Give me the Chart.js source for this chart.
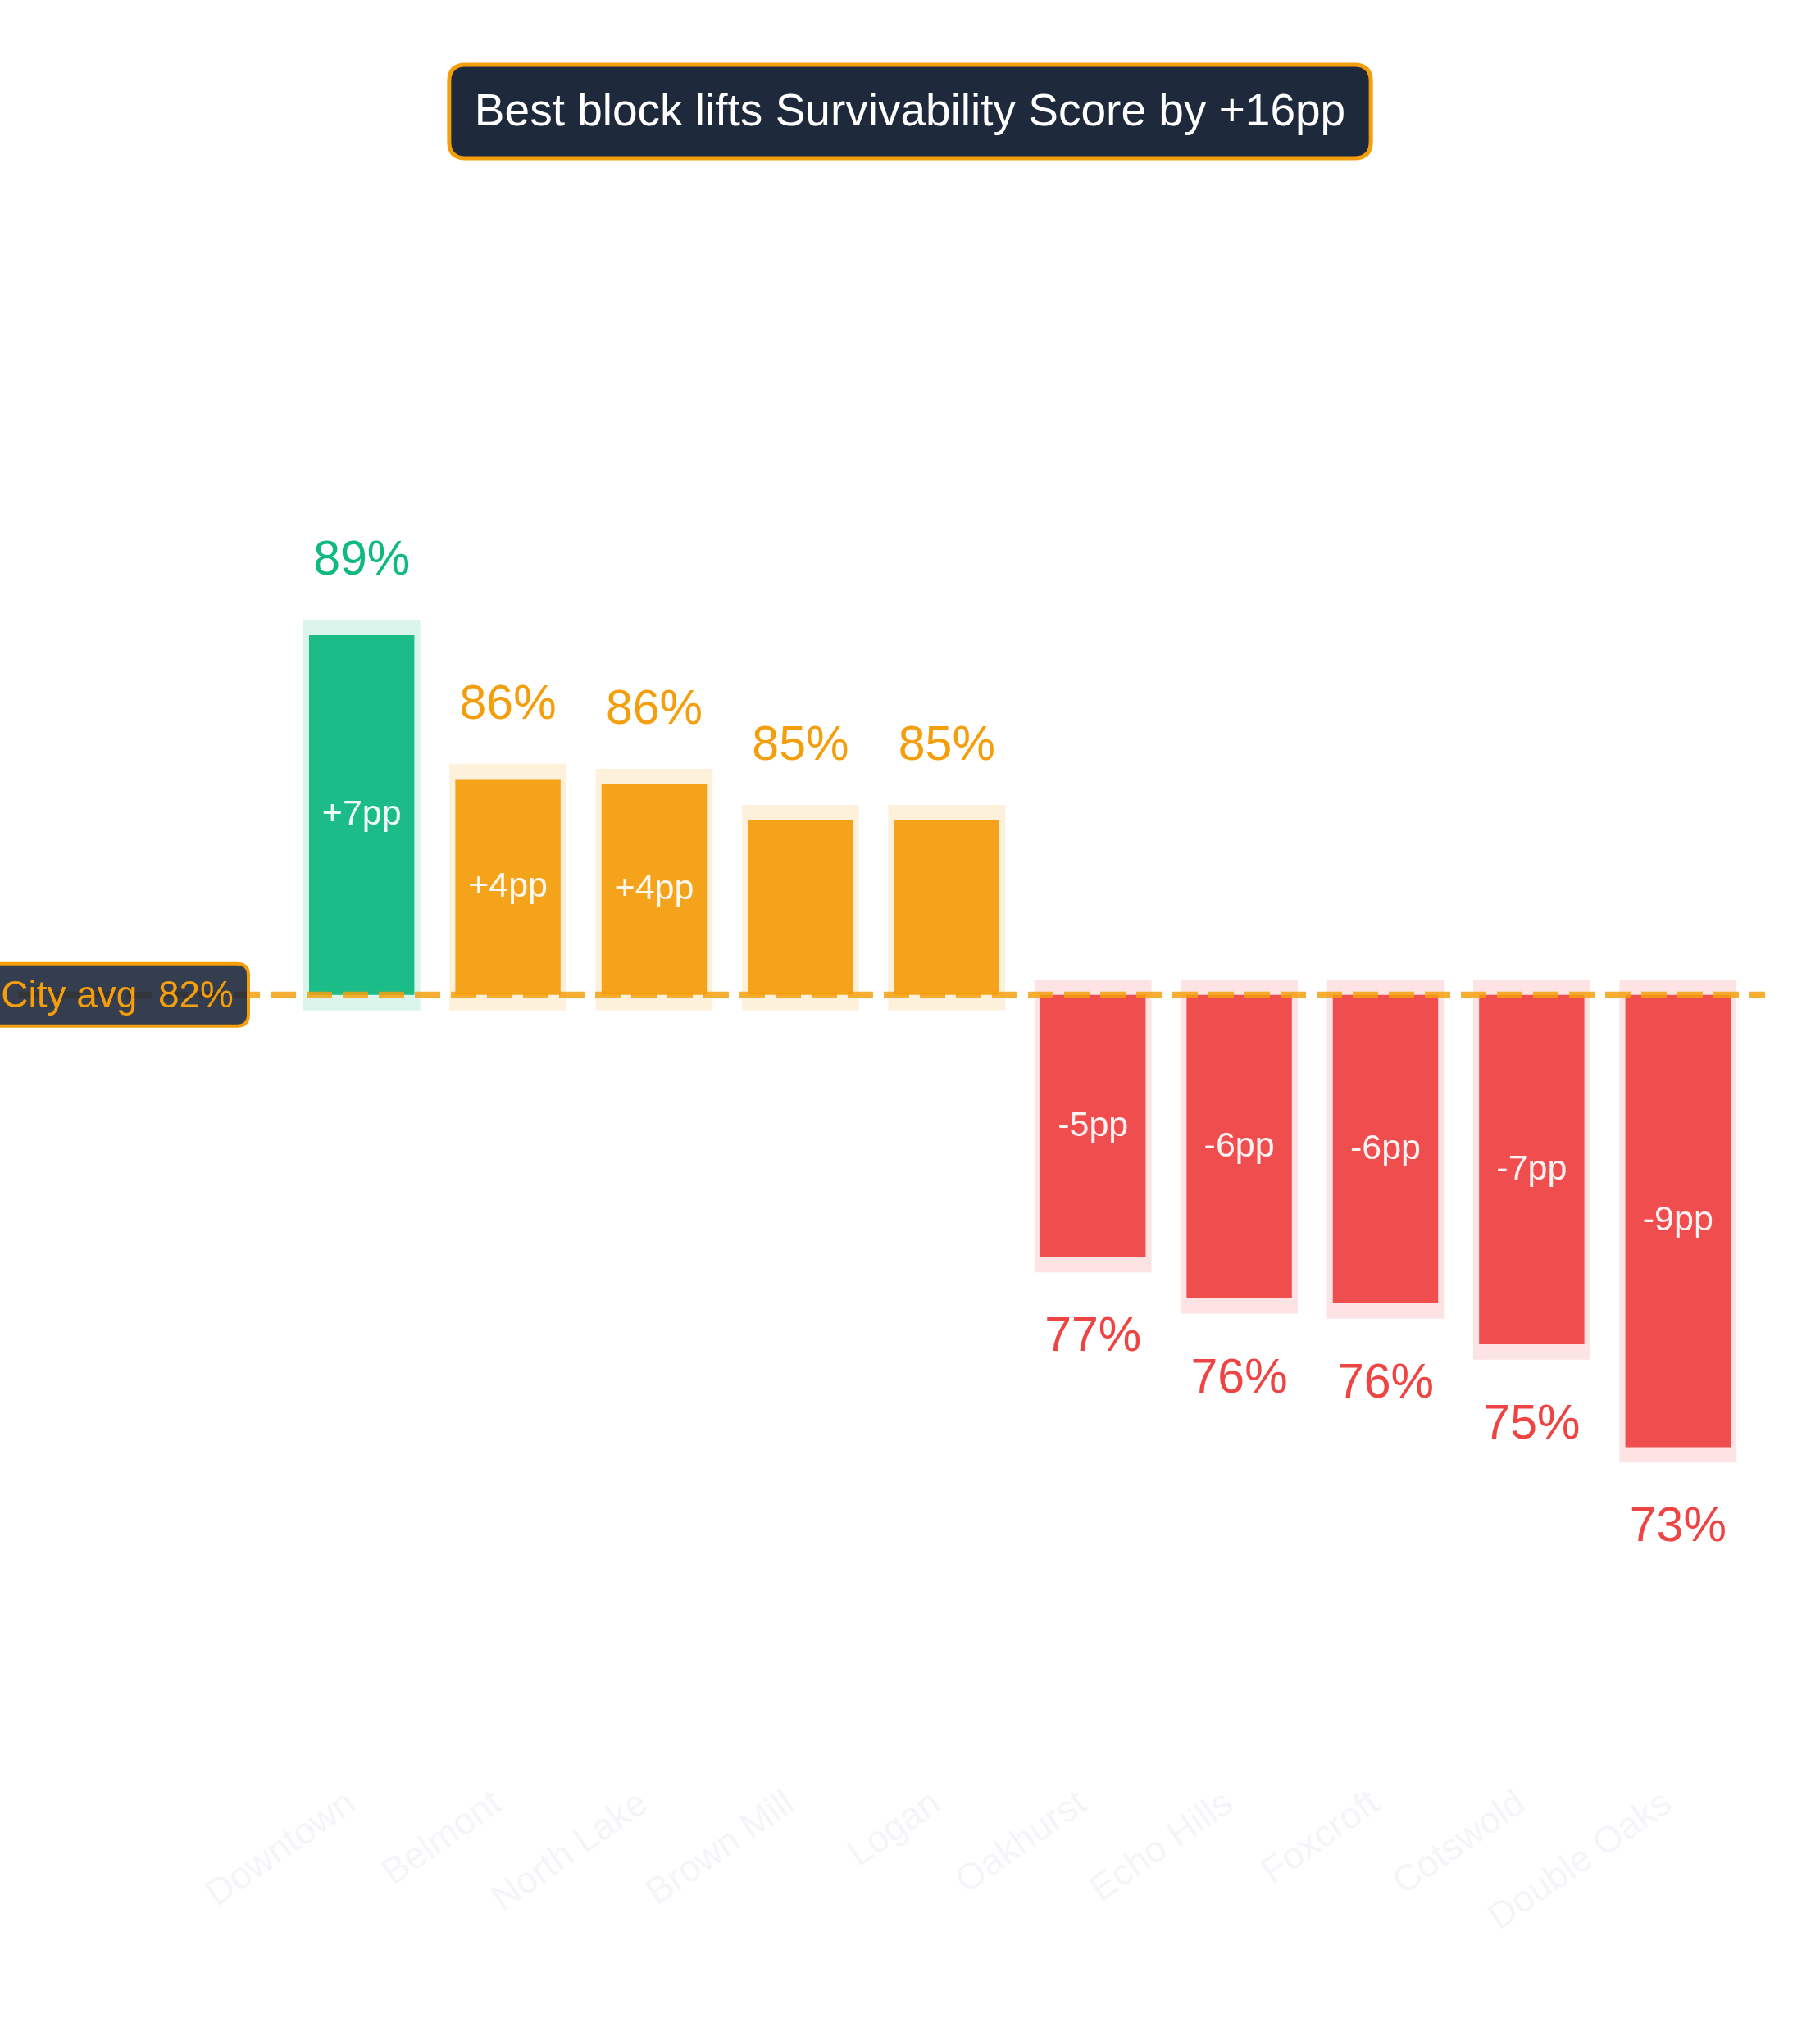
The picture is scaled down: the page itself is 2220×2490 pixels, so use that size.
<!DOCTYPE html>
<html>
<head>
<meta charset="utf-8">
<script src="https://cdn.jsdelivr.net/npm/chart.js@4.4.1/dist/chart.umd.min.js"></script>
<style>
  html, body { margin: 0; padding: 0; background: #ffffff; }
  #chart { display: block; width: 2220px; height: 2490px; }
</style>
</head>
<body>
<canvas id="chart" width="2220" height="2490"></canvas>
<script>
// data
const districts = ["Downtown", "Belmont", "North Lake", "Brown Mill", "Logan",
  "Oakhurst", "Echo Hills", "Foxcroft", "Cotswold", "Double Oaks"];
const scores = [89.0, 86.2, 86.1, 85.4, 85.4, 76.9, 76.1, 76.0, 75.2, 73.2];
const cityAvg = 82;
const haloPad = 0.3; // halo sticks out a little past each bar

const FONT = '"Liberation Sans", Arial, Helvetica, sans-serif';
const GREEN = "#1bbc87";
const AMBER = "#f4a31a";
const RED = "#f04e4e";
const LINE_AMBER = "#f5a00f";

const best = Math.max(...scores);
const worst = Math.min(...scores);

const colorFor = (v) => (v === best ? GREEN : v >= cityAvg ? AMBER : RED);
const haloFor = (v) =>
  v === best ? "rgba(16,185,129,0.15)" : v >= cityAvg ? "rgba(245,158,11,0.15)" : "rgba(239,68,68,0.15)";

const barRanges = scores.map((v) => [cityAvg, v]);
const haloRanges = scores.map((v) => [Math.min(v, cityAvg) - haloPad, Math.max(v, cityAvg) + haloPad]);

function roundRect(ctx, x, y, w, h, r) {
  ctx.beginPath();
  ctx.moveTo(x + r, y);
  ctx.lineTo(x + w - r, y);
  ctx.quadraticCurveTo(x + w, y, x + w, y + r);
  ctx.lineTo(x + w, y + h - r);
  ctx.quadraticCurveTo(x + w, y + h, x + w - r, y + h);
  ctx.lineTo(x + r, y + h);
  ctx.quadraticCurveTo(x, y + h, x, y + h - r);
  ctx.lineTo(x, y + r);
  ctx.quadraticCurveTo(x, y, x + r, y);
  ctx.closePath();
}

// headline box at the top
const titleBox = {
  id: "titleBox",
  afterDraw(chart) {
    const ctx = chart.ctx;
    const text = "Best block lifts Survivability Score by +" + Math.round(best - worst) + "pp";
    ctx.save();
    ctx.font = "55px " + FONT;
    const w = ctx.measureText(text).width + 62;
    const h = 114;
    const x = chart.width / 2 - w / 2;
    const y = 79;
    roundRect(ctx, x, y, w, h, 20);
    ctx.fillStyle = "#1e293b";
    ctx.fill();
    ctx.lineWidth = 5;
    ctx.strokeStyle = "#f59e0b";
    ctx.stroke();
    ctx.fillStyle = "#ffffff";
    ctx.textAlign = "center";
    ctx.textBaseline = "middle";
    ctx.fillText(text, chart.width / 2, y + h / 2 + 2);
    ctx.restore();
  },
};

// dashed city average line with its tag
const avgLine = {
  id: "avgLine",
  afterDatasetsDraw(chart) {
    const ctx = chart.ctx;
    const yPix = chart.scales.y.getPixelForValue(cityAvg);
    const area = chart.chartArea;
    ctx.save();
    ctx.strokeStyle = LINE_AMBER;
    ctx.globalAlpha = 0.85;
    ctx.lineWidth = 8;
    ctx.setLineDash([31, 13]);
    ctx.beginPath();
    ctx.moveTo(22, yPix);
    ctx.lineTo(area.right + 17, yPix);
    ctx.stroke();
    ctx.restore();

    const label = "City avg  " + cityAvg + "%";
    ctx.save();
    ctx.font = "46px " + FONT;
    const tw = ctx.measureText(label).width;
    const right = area.left - 49;
    const w = tw + 36;
    const h = 76;
    roundRect(ctx, right - w, yPix - h / 2, w, h, 14);
    ctx.fillStyle = "rgba(30,41,59,0.9)";
    ctx.fill();
    ctx.lineWidth = 4;
    ctx.strokeStyle = "#f59e0b";
    ctx.stroke();
    ctx.fillStyle = "#f59e0b";
    ctx.textAlign = "right";
    ctx.textBaseline = "middle";
    ctx.fillText(label, right - 18, yPix + 2);
    ctx.restore();
  },
};

// value and gap labels
const barLabels = {
  id: "barLabels",
  afterDatasetsDraw(chart) {
    const ctx = chart.ctx;
    const meta = chart.getDatasetMeta(1);
    ctx.save();
    ctx.textAlign = "center";
    meta.data.forEach((bar, i) => {
      const v = scores[i];
      const top = Math.min(bar.y, bar.base);
      const bottom = Math.max(bar.y, bar.base);
      ctx.font = "59px " + FONT;
      ctx.fillStyle = v === best ? "#10b981" : v >= cityAvg ? "#f59e0b" : "#ef4444";
      ctx.textBaseline = "alphabetic";
      if (v >= cityAvg) {
        ctx.fillText(Math.round(v) + "%", bar.x, top - 74);
      } else {
        ctx.fillText(Math.round(v) + "%", bar.x, bottom + 115);
      }
      const d = Math.round(v - cityAvg);
      if (Math.abs(d) >= 4) {
        ctx.font = "43px " + FONT;
        ctx.fillStyle = "rgba(255,255,255,0.92)";
        ctx.textBaseline = "middle";
        ctx.fillText((d > 0 ? "+" : "") + d + "pp", bar.x, (top + bottom) / 2);
      }
    });
    ctx.restore();
  },
};

new Chart(document.getElementById("chart"), {
  type: "bar",
  data: {
    labels: districts,
    datasets: [
      {
        label: "halo",
        data: haloRanges,
        backgroundColor: scores.map(haloFor),
        borderWidth: 0,
        categoryPercentage: 0.8,
        barPercentage: 1.0,
        grouped: false,
        order: 2,
      },
      {
        label: "Survivability Score",
        data: barRanges,
        backgroundColor: scores.map(colorFor),
        borderWidth: 0,
        categoryPercentage: 0.8,
        barPercentage: 0.9,
        grouped: false,
        order: 1,
      },
    ],
  },
  options: {
    responsive: false,
    devicePixelRatio: 1,
    animation: false,
    layout: { padding: { top: 211, left: 352, right: 84, bottom: 0 } },
    plugins: {
      legend: { display: false },
      tooltip: { enabled: false },
      title: { display: false },
    },
    scales: {
      y: {
        display: false,
        min: 67,
        max: 98,
      },
      x: {
        grid: { display: false },
        border: { display: false },
        ticks: {
          color: "#f3f5f8",
          font: { family: FONT, size: 45 },
          minRotation: 35,
          maxRotation: 35,
          autoSkip: false,
          padding: 12,
          labelOffset: -12,
        },
        afterFit(scale) {
          scale.height = 336;
        },
      },
    },
  },
  plugins: [avgLine, barLabels, titleBox],
});
</script>
</body>
</html>
